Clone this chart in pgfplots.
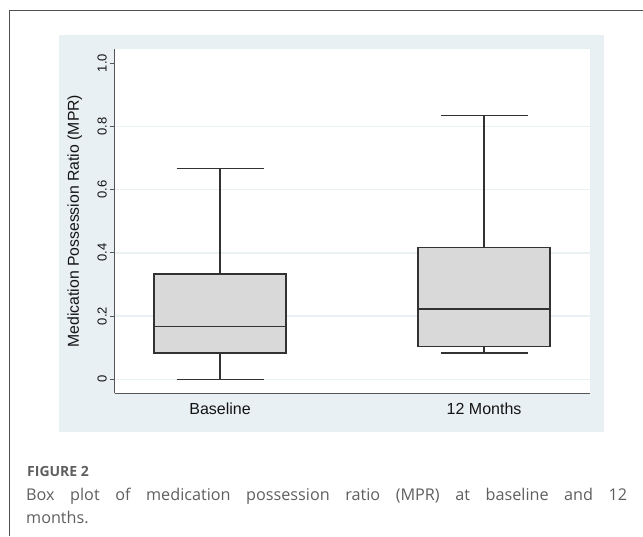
\documentclass[border=0pt]{standalone}
\usepackage{fontspec}
\setmainfont{Liberation Sans}
\newfontfamily\capfont{Open Sans}
\usepackage{pgfplots}
\pgfplotsset{compat=1.18}
\usepgfplotslibrary{statistics}
\definecolor{panel}{RGB}{233,240,243}
\definecolor{gridcol}{RGB}{234,241,243}
\definecolor{boxfill}{RGB}{217,217,217}
\definecolor{boxline}{RGB}{50,50,50}
\definecolor{axiscol}{RGB}{85,85,85}
\definecolor{framecol}{RGB}{80,80,80}
\definecolor{capgray}{RGB}{95,95,95}
\definecolor{txt}{RGB}{20,20,20}
\begin{document}
\begin{tikzpicture}
\path[use as bounding box] (0pt,0pt) rectangle (643pt,536pt);
\draw[framecol, line width=1pt] (9.5pt,0pt) -- (9.5pt,525pt) -- (643pt,525pt);
\fill[panel] (59pt,104pt) rectangle (604pt,501pt);
\begin{axis}[
  at={(114.5pt,142.7pt)}, anchor=south west,
  scale only axis, width=475.2pt, height=344.3pt,
  xmin=0.6, xmax=2.4, ymin=-0.0443, ymax=1.0443,
  axis background/.style={fill=white},
  axis lines*=left,
  axis line style={-, draw=axiscol, line width=1pt},
  xtick={1,2}, xticklabels={Baseline,12 Months},
  x tick style={draw=none},
  xticklabel style={font=\fontsize{16}{19}\selectfont, text=txt, yshift=-2pt},
  ytick={0,0.2,0.4,0.6,0.8,1}, yticklabels={0,0.2,0.4,0.6,0.8,1.0},
  tick align=outside, major tick length=4.5pt,
  y tick style={draw=axiscol, line width=1pt},
  yticklabel style={font=\fontsize{13}{15}\selectfont, text=txt, inner sep=0pt, xshift=-3pt, rotate=90, anchor=south},
  extra y ticks={0,0.2,0.4,0.6,0.8}, extra y tick labels={},
  extra y tick style={ymajorgrids=true, major tick length=0pt},
  grid style={gridcol, line width=1.5pt},
  ylabel={Medication Possession Ratio (MPR)},
  every axis y label/.style={at={([xshift=-35.5pt]axis description cs:0,0.5)}, rotate=90, anchor=base, font=\fontsize{15.8}{18}\selectfont, text=txt},
  boxplot/draw direction=y,
  boxplot/every box/.style={draw=boxline, fill=boxfill, line width=1.3pt},
  boxplot/every whisker/.style={draw=boxline, line width=1.3pt},
  boxplot/every median/.style={draw=boxline, line width=1.3pt},
]
\addplot[draw=boxline, line width=1.3pt,
  boxplot prepared={draw position=1, lower whisker=0, lower quartile=0.0833,
    median=0.1667, upper quartile=0.3333, upper whisker=0.6667,
    box extend=0.5, whisker extend=0.33}] coordinates {};
\addplot[draw=boxline, line width=1.3pt,
  boxplot prepared={draw position=2, lower whisker=0.0833, lower quartile=0.1042,
    median=0.2222, upper quartile=0.4167, upper whisker=0.8333,
    box extend=0.5, whisker extend=0.33}] coordinates {};
\end{axis}
\node[anchor=base west, inner sep=0pt, text=capgray, font=\capfont\bfseries\fontsize{14}{16}\selectfont] at (27pt,59.3pt) {FIGURE 2};
\node[anchor=base west, inner sep=0pt, text=capgray] at (26pt,35pt) {\parbox[t]{601pt}{\capfont\fontsize{16.2}{22.3}\selectfont Box plot of medication possession ratio (MPR) at baseline and 12\linebreak months.}};
\end{tikzpicture}
\end{document}
